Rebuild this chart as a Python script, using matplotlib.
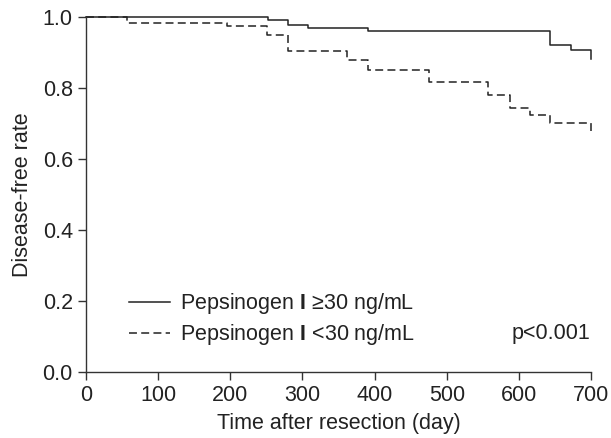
import matplotlib.pyplot as plt

plt.rcParams['font.family'] = ['Liberation Sans', 'DejaVu Sans']
plt.rcParams['mathtext.fontset'] = 'custom'
plt.rcParams['mathtext.bf'] = 'Liberation Sans:bold'
plt.rcParams['mathtext.rm'] = 'Liberation Sans'

# Kaplan-Meier steps
high_days = [0, 252, 280, 308, 391, 643, 672, 700]
high_rate = [1.0, 0.991, 0.978, 0.971, 0.961, 0.923, 0.907, 0.882]

low_days = [0, 57, 195, 251, 280, 362, 391, 476, 557, 588, 616, 643, 700]
low_rate = [1.0, 0.984, 0.976, 0.949, 0.905, 0.879, 0.851, 0.817, 0.780, 0.745, 0.724, 0.702, 0.679]

x_ticks = [0, 100, 200, 300, 400, 500, 600, 700]
y_ticks = [0.0, 0.2, 0.4, 0.6, 0.8, 1.0]

labels = ['Pepsinogen $\\mathbf{I}$ \u226530 ng/mL', 'Pepsinogen $\\mathbf{I}$ <30 ng/mL']
p_text = 'p<0.001'

ink = '#222222'
fs = 15.5
fig = plt.figure(figsize=(6.11, 4.38), dpi=100)
ax = fig.add_axes([0.1408, 0.1507, 0.8265, 0.8098])

ax.step(high_days, high_rate, where='post', color=ink, lw=1.1, clip_on=False, label=labels[0])
ln, = ax.step(low_days, low_rate, where='post', color=ink, lw=1.1, clip_on=False, label=labels[1])
ln.set_dashes([5.2, 2.8])

ax.set_xlim(0, 700)
ax.set_ylim(0, 1.0)
ax.set_xticks(x_ticks)
ax.set_yticks(y_ticks)
ax.set_yticklabels(['%.1f' % v for v in y_ticks])
for s in ['top', 'right']:
    ax.spines[s].set_visible(False)
for s in ['left', 'bottom']:
    ax.spines[s].set_color('#333333')
    ax.spines[s].set_linewidth(1.0)
ax.tick_params(direction='out', length=6, width=1.0, color='#333333', labelsize=fs, labelcolor=ink)
ax.set_xlabel('Time after resection (day)', fontsize=fs, color=ink, labelpad=5)
ax.set_ylabel('Disease-free rate', fontsize=fs, color=ink, labelpad=7)

leg = ax.legend(loc='lower left', bbox_to_anchor=(0.063, 0.04), frameon=False, fontsize=fs,
                handlelength=1.9, handletextpad=0.5, labelspacing=0.26, borderpad=0)
for t in leg.get_texts():
    t.set_color(ink)
ax.text(0.998, 0.108, p_text, transform=ax.transAxes, ha='right', va='center', fontsize=fs, color=ink)

fig.savefig('out.png')
